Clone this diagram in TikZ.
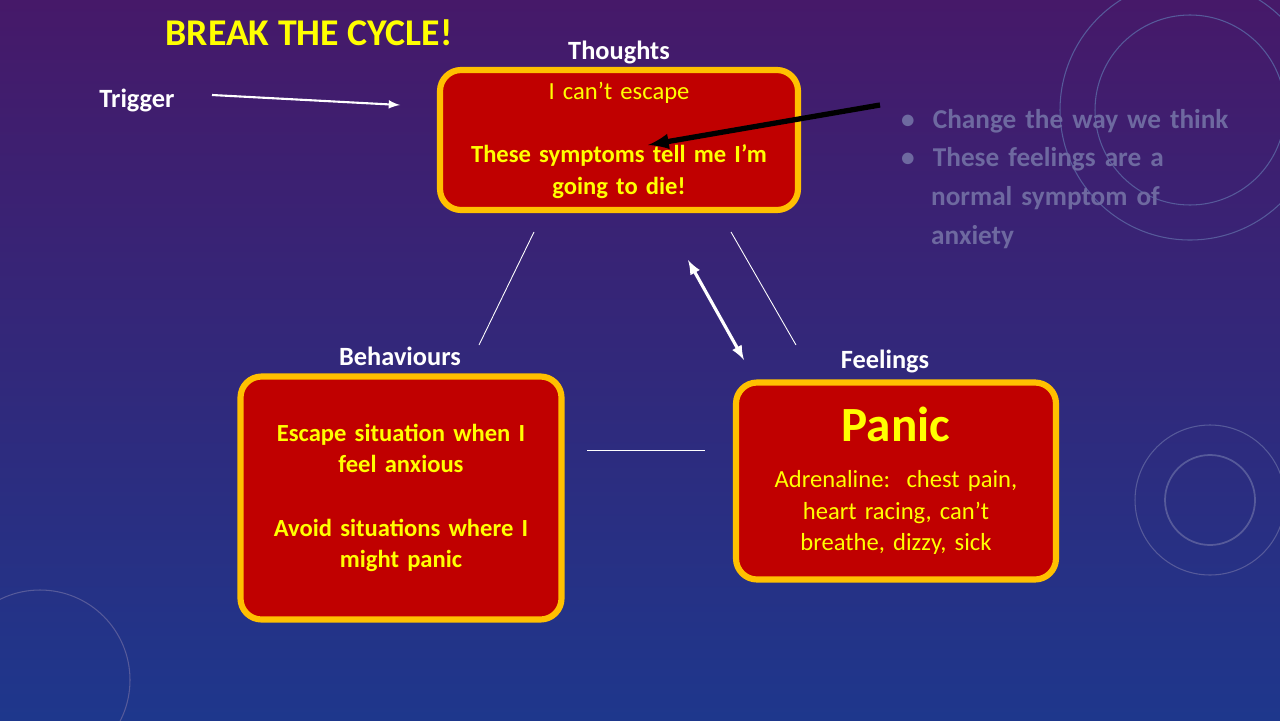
\documentclass[tikz,border=0pt]{standalone}
\usepackage{fontspec}
\setmainfont{Carlito}
\usetikzlibrary{positioning}
\definecolor{boxred}{RGB}{192,0,0}
\definecolor{boxgold}{RGB}{255,192,0}
\definecolor{titleyellow}{RGB}{255,255,0}
\definecolor{bgtop}{RGB}{70,25,105}
\definecolor{bgbot}{RGB}{30,55,140}
\definecolor{faded}{RGB}{110,105,160}
\tikzset{
  cyclebox/.style={draw=boxgold,line width=3.5pt,fill=boxred,rounded corners=12pt,
    text=titleyellow,font=\fontsize{14}{18}\selectfont\bfseries,align=center},
  label/.style={text=white,font=\fontsize{15}{18}\selectfont\bfseries},
  thin link/.style={draw=white,line width=0.5pt},
  decor/.style={draw=faded!70!bgbot,line width=0.6pt},
}
\begin{document}
\begin{tikzpicture}[x=0.02cm,y=-0.02cm]
\useasboundingbox (0,0) rectangle (1280,720);
\shade[top color=bgtop,bottom color=bgbot] (0,0) rectangle (1280,720);
% faint decorations
\draw[decor] (1190,110) circle(130);
\draw[decor] (1190,110) circle(95);
\draw[decor,line width=1pt] (1210,500) circle(45);
\draw[decor] (1210,500) circle(75);
\draw[decor] (40,680) circle(90);
% title
\node[text=titleyellow,font=\fontsize{21.5}{24}\selectfont\bfseries] (title) at (309,33) {BREAK THE CYCLE!};
% boxes
\node[cyclebox,text width=330*0.02cm,minimum width=358*0.02cm,minimum height=140*0.02cm] (thoughts) at (619,140)
  {{\mdseries I can’t escape}\\[18pt]These symptoms tell me I’m\\going to die!};
\node[cyclebox,text width=300*0.02cm,minimum width=321*0.02cm,minimum height=243*0.02cm] (behav) at (401,498)
  {Escape situation when I\\feel anxious\\[18pt]Avoid situations where I\\might panic};
\node[cyclebox,text width=300*0.02cm,minimum width=320*0.02cm,minimum height=197*0.02cm] (feel) at (896,481)
  {{\fontsize{28}{30}\selectfont Panic}\\[8pt]{\mdseries Adrenaline:\ \ chest pain,\\heart racing, can’t\\breathe, dizzy, sick}};
% labels
\node[label] (lthoughts) at (619,52) {Thoughts};
\node[label] (lbehav) at (400,356) {Behaviours};
\node[label] (lfeel) at (885,361) {Feelings};
\node[label] (trigger) at (137,100) {Trigger};
% connectors
\coordinate (tA) at (212,95); \coordinate (tB) at (400,105);
\draw[white,line width=1.2pt,->,>=latex] (tA) -- (tB);
\coordinate (l1a) at (534,232); \coordinate (l1b) at (479,345);
\coordinate (l2a) at (731,232); \coordinate (l2b) at (796,345);
\coordinate (l3a) at (587,450); \coordinate (l3b) at (705,450);
\draw[thin link] (l1a) -- (l1b);
\draw[thin link] (l2a) -- (l2b);
\draw[thin link] (l3a) -- (l3b);
\coordinate (dA) at (688,260); \coordinate (dB) at (744,360);
\draw[white,line width=1.8pt,<->,>=latex] (dA) -- (dB);
\coordinate (kA) at (880,105); \coordinate (kB) at (648,145);
\draw[black,line width=3pt,->,>=latex] (kA) -- (kB);
% faded notes
\node[text=faded,font=\fontsize{15.5}{22}\selectfont\bfseries,align=left,anchor=north west,text width=380*0.02cm] (notes) at (895,103)
  {\raggedright\textbullet\ \ Change the way we think\\\textbullet\ \ These feelings are a\\\hspace*{1.1em}normal symptom of\\\hspace*{1.1em}anxiety};
\end{tikzpicture}
\end{document}
